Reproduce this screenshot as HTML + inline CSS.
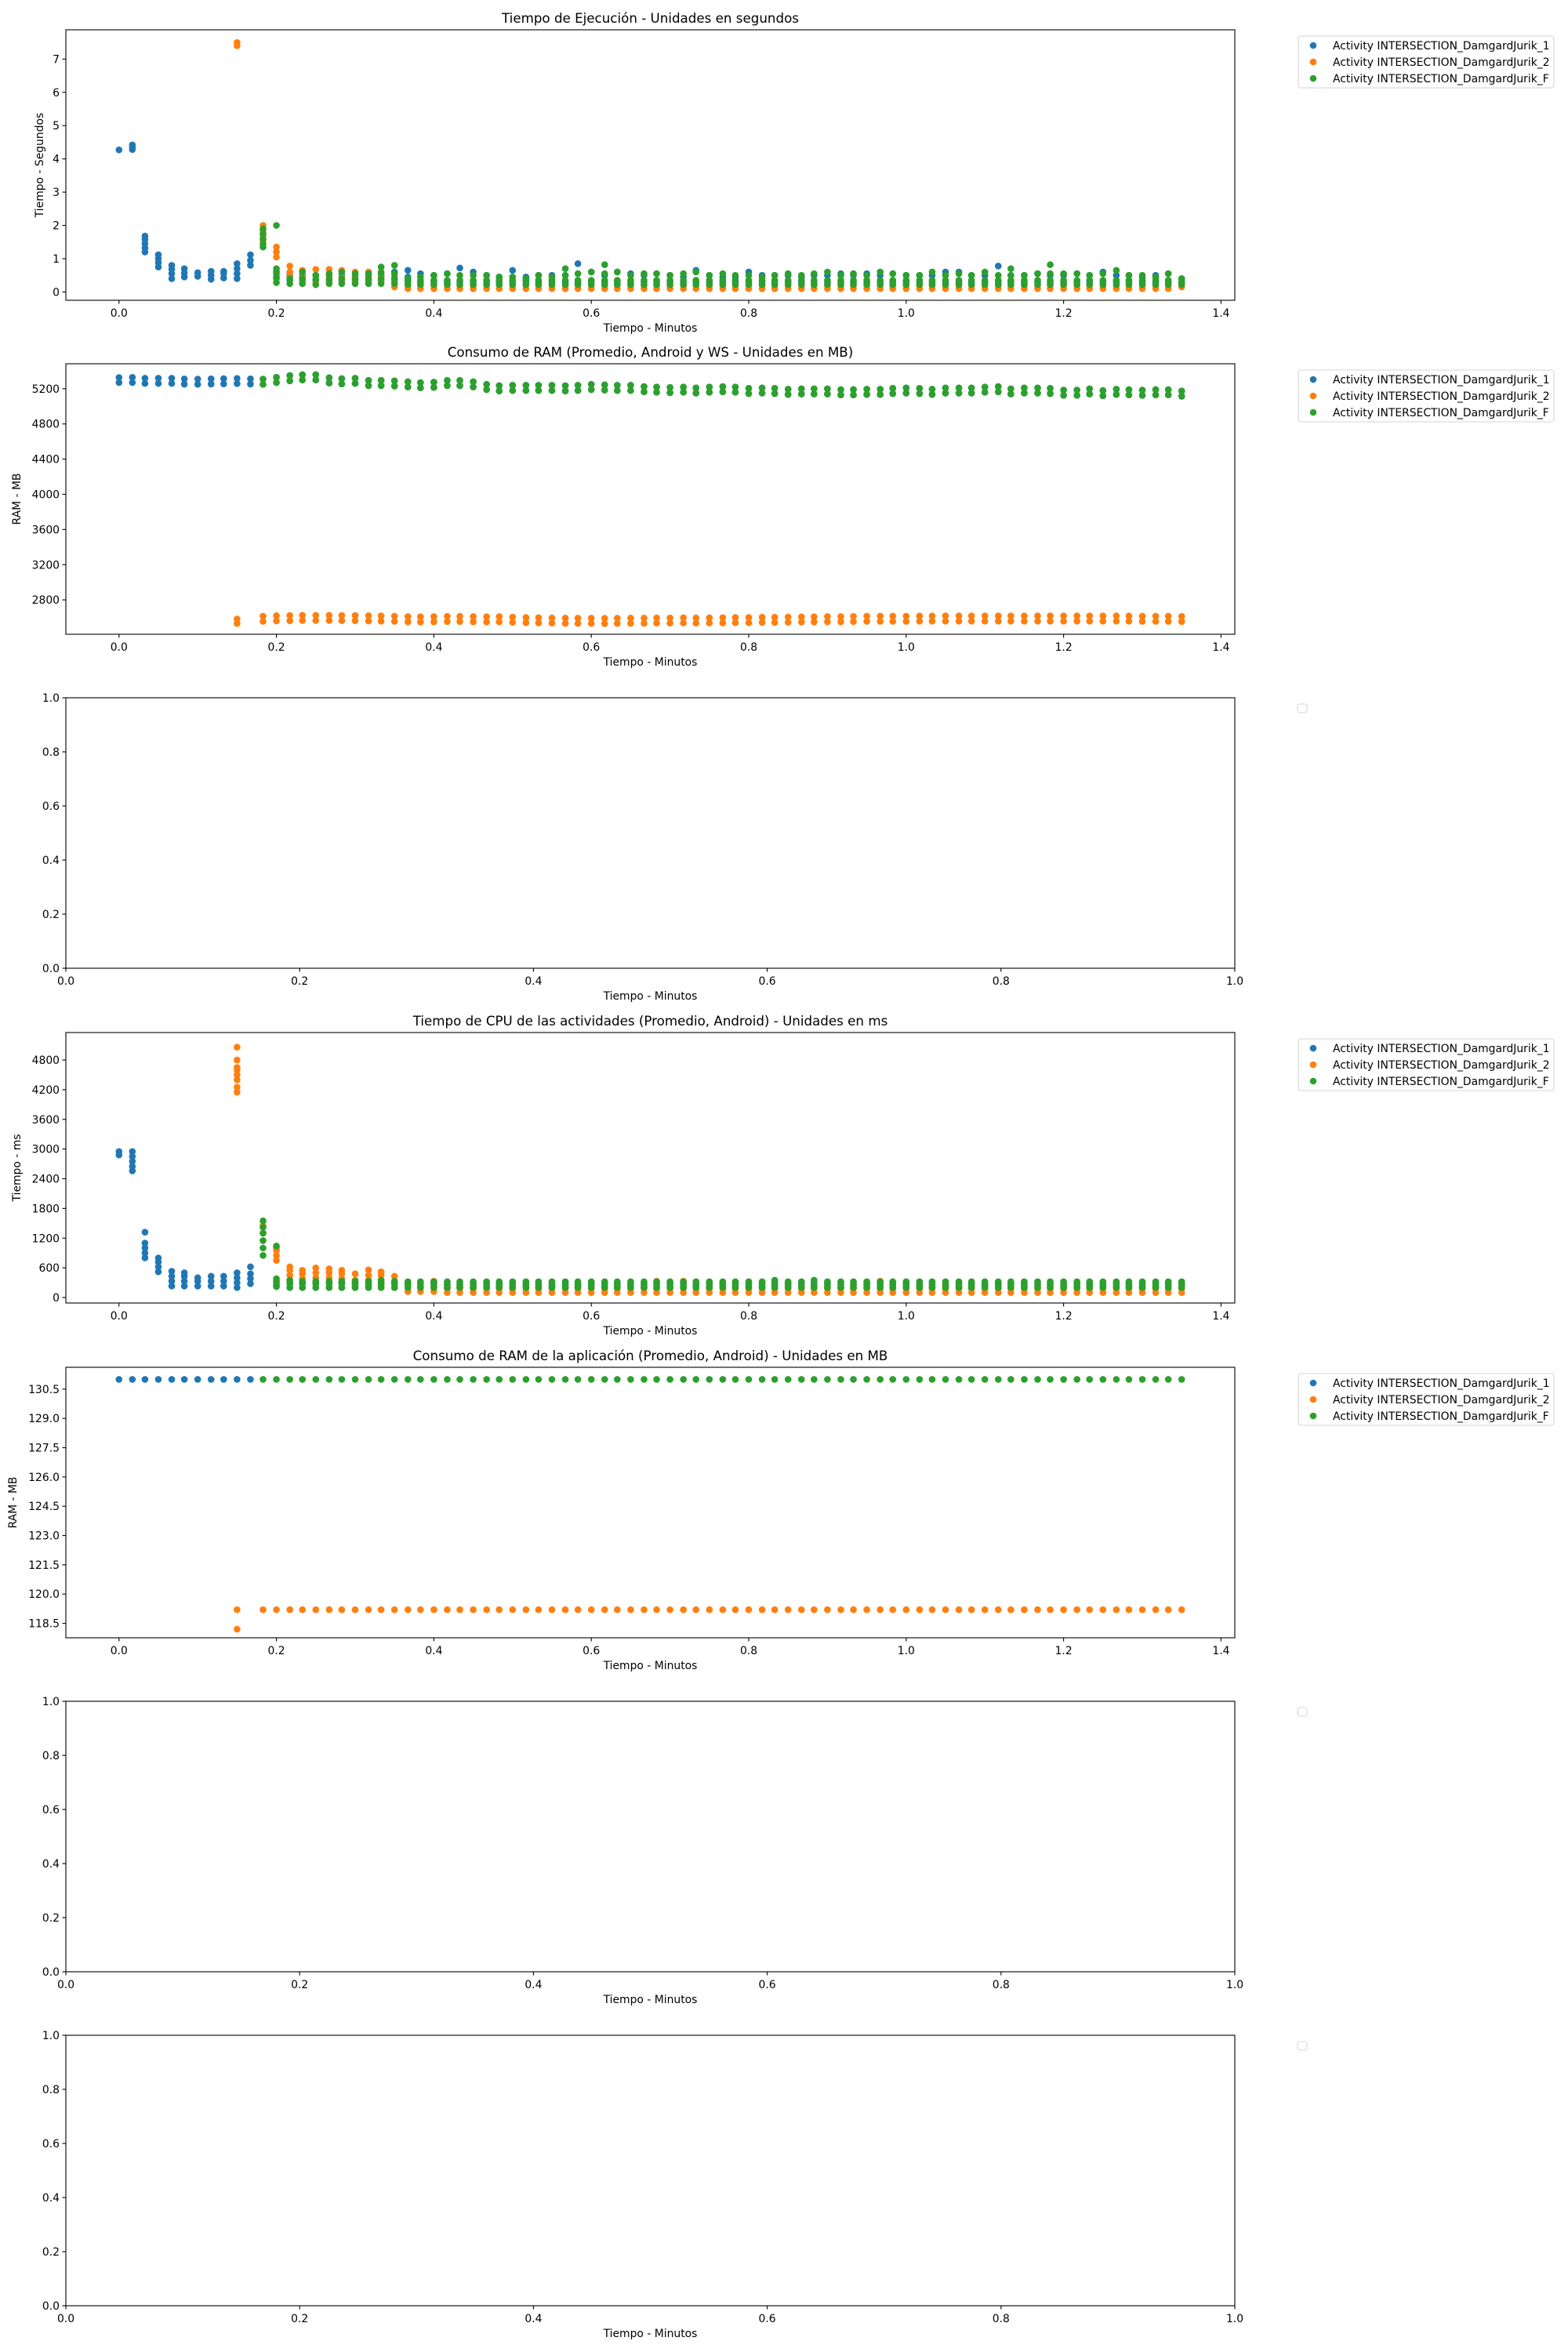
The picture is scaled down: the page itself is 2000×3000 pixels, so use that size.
<!DOCTYPE html>
<html><head><meta charset="utf-8"><title>Charts</title>
<style>
html,body{margin:0;padding:0;background:#fff;}
svg{display:block;font-family:"DejaVu Sans","Liberation Sans",sans-serif;}
</style></head>
<body>
<svg id="fig" width="2000" height="3000" viewBox="0 0 2000 3000" xmlns="http://www.w3.org/2000/svg"></svg>
<script>
// ---------- data ----------
const minutes = [0.000,0.017,0.033,0.050,0.067,0.083,0.100,0.117,0.133,0.150,0.167,0.183,0.200,0.217,0.233,0.250,0.267,0.283,0.300,0.317,0.333,0.350,0.367,0.383,0.400,0.417,0.433,0.450,0.467,0.483,0.500,0.517,0.533,0.550,0.567,0.583,0.600,0.617,0.633,0.650,0.667,0.683,0.700,0.717,0.733,0.750,0.767,0.783,0.800,0.817,0.833,0.850,0.867,0.883,0.900,0.917,0.933,0.950,0.967,0.983,1.000,1.017,1.033,1.050,1.067,1.083,1.100,1.117,1.133,1.150,1.167,1.183,1.200,1.217,1.233,1.250,1.267,1.283,1.300,1.317,1.333,1.350];
const seriesNames = ["Activity INTERSECTION_DamgardJurik_1","Activity INTERSECTION_DamgardJurik_2","Activity INTERSECTION_DamgardJurik_F"];

// Chart 1: execution time (s)
const execBlue = [[4.27],[4.28,4.35,4.42],[1.2,1.32,1.45,1.58,1.68],[0.75,0.88,1.0,1.12],[0.4,0.55,0.68,0.8],[0.45,0.57,0.7],[0.47,0.58],[0.38,0.5,0.62],[0.42,0.55,0.62],[0.4,0.55,0.7,0.85],[0.8,0.95,1.12],
null,[0.45,0.6],[0.35,0.5],[0.35,0.5],[0.35,0.5],[0.35,0.5],[0.35,0.5],[0.35,0.5],[0.35,0.5],[0.35,0.5],[0.35,0.6],
[0.3,0.45,0.65],[0.3,0.55],[0.3,0.5],[0.3,0.55],[0.3,0.72],[0.3,0.6],[0.3,0.5],[0.3,0.45],[0.3,0.65],[0.3,0.45],
[0.3,0.5],[0.3,0.5],[0.3,0.5],[0.3,0.85],[0.3,0.6],[0.3,0.5],[0.3,0.6],[0.3,0.55],[0.3,0.5],[0.3,0.55],
[0.3,0.5],[0.3,0.45],[0.3,0.65],[0.3,0.5],[0.3,0.45],[0.3,0.45],[0.3,0.6],[0.3,0.5],[0.3,0.5],[0.3,0.5],
[0.3,0.45],[0.3,0.5],[0.3,0.5],[0.3,0.55],[0.3,0.5],[0.3,0.55],[0.3,0.5],[0.3,0.55],[0.3,0.5],[0.3,0.5],
[0.3,0.5],[0.3,0.6],[0.3,0.6],[0.3,0.5],[0.3,0.5],[0.3,0.78],[0.3,0.5],[0.3,0.5],[0.3,0.55],[0.3,0.5],
[0.3,0.5],[0.3,0.55],[0.3,0.5],[0.3,0.6],[0.3,0.5],[0.3,0.5],[0.3,0.45],[0.3,0.5],[0.3,0.55],[0.3,0.4]];
const execOrange = [null,null,null,null,null,null,null,null,null,[7.4,7.5],null,
[1.55,1.7,1.85,2.0],[1.05,1.2,1.35],[0.45,0.6,0.78],[0.3,0.45,0.65],[0.3,0.5,0.68],[0.3,0.5,0.68],[0.3,0.45,0.65],[0.3,0.45,0.6],[0.3,0.45,0.6],[0.3,0.45,0.6],[0.15,0.3,0.45],
[0.1,0.2],[0.1,0.2],[0.1,0.2],[0.1,0.2],[0.1,0.2],[0.1,0.2],[0.1,0.2],[0.1,0.2],[0.1,0.2],[0.1,0.2],
[0.1,0.2],[0.1,0.2],[0.1,0.2],[0.1,0.2],[0.1,0.2],[0.1,0.2],[0.1,0.2],[0.1,0.2],[0.1,0.2],[0.1,0.2],
[0.1,0.2],[0.1,0.2],[0.1,0.2],[0.1,0.2],[0.1,0.2],[0.1,0.2],[0.1,0.2],[0.1,0.2],[0.1,0.2],[0.1,0.2],
[0.1,0.2],[0.1,0.2],[0.1,0.2],[0.1,0.2],[0.1,0.2],[0.1,0.2],[0.1,0.2],[0.1,0.2],[0.1,0.2],[0.1,0.2],
[0.1,0.2],[0.1,0.2],[0.1,0.2],[0.1,0.2],[0.1,0.2],[0.1,0.2],[0.1,0.2],[0.1,0.2],[0.1,0.2],[0.1,0.2],
[0.1,0.2],[0.1,0.2],[0.1,0.2],[0.1,0.2],[0.1,0.2],[0.1,0.2],[0.1,0.2],[0.1,0.2],[0.1,0.2],[0.15,0.2]];
const execGreen = [null,null,null,null,null,null,null,null,null,null,null,
[1.35,1.45,1.6,1.75,1.9],[0.28,0.4,0.55,0.7,2.0],[0.25,0.4],[0.25,0.4,0.6],[0.22,0.38,0.5],[0.25,0.4,0.55],[0.25,0.4,0.6],[0.25,0.4,0.55],[0.25,0.4,0.55],[0.25,0.4,0.58,0.75],[0.25,0.4,0.55,0.8],
[0.22,0.35,0.4],[0.22,0.35,0.45],[0.22,0.35,0.5],[0.22,0.35,0.55],[0.22,0.35,0.5],[0.22,0.35,0.5],[0.22,0.35,0.5],[0.22,0.35,0.45],[0.22,0.35,0.45],[0.22,0.35,0.4],
[0.22,0.35,0.5],[0.22,0.35,0.45],[0.22,0.35,0.5,0.7],[0.22,0.35,0.55],[0.22,0.35,0.6],[0.22,0.35,0.55,0.82],[0.22,0.35,0.6],[0.22,0.35,0.5],[0.22,0.35,0.55],[0.22,0.35,0.55],
[0.22,0.35,0.5],[0.22,0.35,0.55],[0.22,0.35,0.6],[0.22,0.35,0.5],[0.22,0.35,0.55],[0.22,0.35,0.5],[0.22,0.35,0.5],[0.22,0.35,0.45],[0.22,0.35,0.5],[0.22,0.35,0.55],
[0.22,0.35,0.5],[0.22,0.35,0.55],[0.22,0.35,0.6],[0.22,0.35,0.5],[0.22,0.35,0.55],[0.22,0.35,0.5],[0.22,0.35,0.6],[0.22,0.35,0.55],[0.22,0.35,0.5],[0.22,0.35,0.5],
[0.22,0.35,0.6],[0.22,0.35,0.5],[0.22,0.35,0.55],[0.22,0.35,0.5],[0.22,0.35,0.6],[0.22,0.35,0.5],[0.22,0.35,0.5,0.7],[0.22,0.35,0.5],[0.22,0.35,0.55],[0.22,0.35,0.55,0.82],
[0.22,0.35,0.55],[0.22,0.35,0.55],[0.22,0.35,0.5],[0.22,0.35,0.55],[0.22,0.35,0.65],[0.22,0.35,0.5],[0.22,0.35,0.5],[0.22,0.35,0.45],[0.22,0.35,0.55],[0.22,0.3,0.4]];

// Chart 2: system RAM (MB), low / high per column
const ramBlueLo = [5270,5270,5260,5260,5260,5252,5250,5253,5255,5258,5253,5250,5270,5290,5300,5300,5265,5255,5260,5235,5235,5230,5220,5210,5215,5235,5235,5220,5190,5175,5180,5180,5180,5180,5175,5180,5190,5185,5180,5180,5165,5160,5155,5160,5150,5160,5165,5160,5145,5150,5145,5135,5140,5140,5140,5130,5130,5135,5135,5145,5150,5145,5135,5150,5150,5150,5160,5165,5140,5150,5150,5145,5125,5125,5140,5120,5135,5130,5125,5130,5130,5115];
const ramBlueHi = [5328,5330,5320,5320,5320,5312,5310,5313,5315,5318,5313,5310,5330,5350,5360,5360,5325,5315,5320,5295,5295,5290,5280,5270,5275,5295,5295,5280,5250,5235,5240,5240,5240,5240,5235,5240,5250,5245,5240,5240,5225,5220,5215,5220,5210,5220,5225,5220,5205,5210,5205,5195,5200,5200,5200,5190,5190,5195,5195,5205,5210,5205,5195,5210,5210,5210,5220,5225,5200,5210,5210,5205,5185,5185,5200,5180,5195,5190,5185,5190,5190,5175];
const ramOrangeLo = [null,null,null,null,null,null,null,null,null,2532,null,2555,2560,2563,2565,2565,2565,2563,2562,2560,2558,2555,2550,2548,2550,2553,2553,2550,2548,2550,2545,2540,2538,2535,2533,2532,2532,2530,2532,2533,2533,2535,2535,2537,2535,2537,2538,2540,2540,2543,2543,2545,2547,2548,2550,2550,2552,2555,2555,2555,2555,2557,2557,2558,2558,2558,2558,2558,2558,2558,2558,2558,2558,2558,2558,2558,2558,2557,2555,2555,2555,2552];
const ramOrangeHi = [null,null,null,null,null,null,null,null,null,2582,null,2615,2620,2623,2625,2625,2625,2623,2622,2620,2618,2615,2610,2608,2610,2613,2613,2610,2608,2610,2605,2600,2598,2595,2593,2592,2592,2590,2592,2593,2593,2595,2595,2597,2595,2597,2598,2600,2600,2603,2603,2605,2607,2608,2610,2610,2612,2615,2615,2615,2615,2617,2617,2618,2618,2618,2618,2618,2618,2618,2618,2618,2618,2618,2618,2618,2618,2617,2615,2615,2615,2612];
const ramGreenLo = [null,null,null,null,null,null,null,null,null,null,null,5250,5270,5290,5300,5300,5265,5255,5260,5235,5235,5230,5220,5210,5215,5235,5235,5220,5190,5175,5180,5180,5180,5180,5175,5180,5190,5185,5180,5180,5165,5160,5155,5160,5150,5160,5165,5160,5145,5150,5145,5135,5140,5140,5140,5130,5130,5135,5135,5145,5150,5145,5135,5150,5150,5150,5160,5165,5140,5150,5150,5145,5125,5125,5140,5120,5135,5130,5125,5130,5130,5115];
const ramGreenHi = [null,null,null,null,null,null,null,null,null,null,null,5310,5330,5350,5360,5360,5325,5315,5320,5295,5295,5290,5280,5270,5275,5295,5295,5280,5250,5235,5240,5240,5240,5240,5235,5240,5250,5245,5240,5240,5225,5220,5215,5220,5210,5220,5225,5220,5205,5210,5205,5195,5200,5200,5200,5190,5190,5195,5195,5205,5210,5205,5195,5210,5210,5210,5220,5225,5200,5210,5210,5205,5185,5185,5200,5180,5195,5190,5185,5190,5190,5175];

// Chart 4: CPU time (ms)
const cpuBlue = [[2880,2950],[2560,2650,2750,2850,2950],[800,900,1000,1100,1320],[520,620,720,800],[230,330,430,530],[230,330,430,500],[230,330,400],[230,330,430],[230,330,430],[200,300,400,500],[280,380,480,620],
null,[250,330],[200,300],[200,300],[200,300],[200,300],[200,300],[200,300],[200,300],[200,300],[200,300],
[200,300],[200,300],[200,300],[200,300],[200,300],[200,300],[200,300],[200,300],[200,300],[200,300],
[200,300],[200,300],[200,300],[200,300],[200,300],[200,300],[200,300],[200,300],[200,300],[200,300],
[200,300],[200,300],[200,300],[200,300],[200,300],[200,300],[200,300],[200,300],[200,300],[200,300],
[200,300],[200,300],[200,300],[200,300],[200,300],[200,300],[200,300],[200,300],[200,300],[200,300],
[200,300],[200,300],[200,300],[200,300],[200,300],[200,300],[200,300],[200,300],[200,300],[200,300],
[200,300],[200,300],[200,300],[200,300],[200,300],[200,300],[200,300],[200,300],[200,300],[200,300]];
const cpuOrange = [null,null,null,null,null,null,null,null,null,[4150,4250,4400,4500,4600,4650,4800,5060],null,
[1150,1300,1450],[750,850,950,1000],[350,450,550,620],[280,380,480,550],[300,400,500,600],[300,400,500,580],[280,380,480,550],[250,350,480],[250,350,450,560],[250,350,450,520],[200,300,430],
[120,200,270],[120,200,270],[120,200,330],[100,180,250],[100,180,250],[100,180,250],[100,180,250],[100,180,250],[100,180,250],[100,180,250],
[100,180,250],[100,180,250],[100,180,250],[100,180,250],[100,180,250],[100,180,250],[100,180,250],[100,180,250],[100,180,250],[100,180,330],
[100,180,250],[100,180,330],[100,180,250],[100,180,250],[100,180,250],[100,180,250],[100,180,250],[100,180,250],[100,180,250],[100,180,250],
[100,180,250],[100,180,250],[100,180,250],[100,180,250],[100,180,250],[100,180,250],[100,180,330],[100,180,250],[100,180,250],[100,180,250],
[100,180,250],[100,180,250],[100,180,250],[100,180,250],[100,180,250],[100,180,250],[100,180,250],[100,180,250],[100,180,250],[100,180,250],
[100,180,250],[100,180,250],[100,180,250],[100,180,250],[100,180,250],[100,180,250],[100,180,250],[100,180,250],[100,180,250],[100,180,250]];
const cpuGreen = [null,null,null,null,null,null,null,null,null,null,null,
[850,1000,1150,1300,1420,1550],[220,300,380,1040],[200,280,350],[200,280,330],[200,280,330],[200,280,330],[200,280,330],[200,280,330],[200,280,330],[200,280,350],[200,280,330],
[200,260,320],[200,260,320],[200,260,320],[200,260,320],[200,260,320],[200,260,320],[200,260,320],[200,260,320],[200,260,320],[200,260,320],
[200,260,320],[200,260,320],[200,260,320],[200,260,320],[200,260,320],[200,260,320],[200,260,320],[200,260,320],[200,260,320],[200,260,320],
[200,260,320],[200,260,320],[200,260,320],[200,260,320],[200,260,320],[200,260,320],[200,260,320],[200,260,320],[200,260,350],[200,260,320],
[200,260,320],[200,260,350],[200,260,320],[200,260,320],[200,260,320],[200,260,320],[200,260,320],[200,260,320],[200,260,320],[200,260,320],
[200,260,320],[200,260,320],[200,260,320],[200,260,320],[200,260,320],[200,260,320],[200,260,320],[200,260,320],[200,260,320],[200,260,320],
[200,260,320],[200,260,320],[200,260,320],[200,260,320],[200,260,320],[200,260,320],[200,260,320],[200,260,320],[200,260,320],[200,260,320]];

// Chart 5: app RAM (MB)
const appBlue = [[131.0],[131.0],[131.0],[131.0],[131.0],[131.0],[131.0],[131.0],[131.0],[131.0],[131.0]];
const appOrange = [null,null,null,null,null,null,null,null,null,[119.2,118.2],null,
[119.2],[119.2],[119.2],[119.2],[119.2],[119.2],[119.2],[119.2],[119.2],[119.2],
[119.2],[119.2],[119.2],[119.2],[119.2],[119.2],[119.2],[119.2],[119.2],[119.2],
[119.2],[119.2],[119.2],[119.2],[119.2],[119.2],[119.2],[119.2],[119.2],[119.2],
[119.2],[119.2],[119.2],[119.2],[119.2],[119.2],[119.2],[119.2],[119.2],[119.2],
[119.2],[119.2],[119.2],[119.2],[119.2],[119.2],[119.2],[119.2],[119.2],[119.2],
[119.2],[119.2],[119.2],[119.2],[119.2],[119.2],[119.2],[119.2],[119.2],[119.2],
[119.2],[119.2],[119.2],[119.2],[119.2],[119.2],[119.2],[119.2],[119.2],[119.2],
[119.2]];
const appGreen = [null,null,null,null,null,null,null,null,null,null,null,
[131.0],[131.0],[131.0],[131.0],[131.0],[131.0],[131.0],[131.0],[131.0],[131.0],
[131.0],[131.0],[131.0],[131.0],[131.0],[131.0],[131.0],[131.0],[131.0],[131.0],
[131.0],[131.0],[131.0],[131.0],[131.0],[131.0],[131.0],[131.0],[131.0],[131.0],
[131.0],[131.0],[131.0],[131.0],[131.0],[131.0],[131.0],[131.0],[131.0],[131.0],
[131.0],[131.0],[131.0],[131.0],[131.0],[131.0],[131.0],[131.0],[131.0],[131.0],
[131.0],[131.0],[131.0],[131.0],[131.0],[131.0],[131.0],[131.0],[131.0],[131.0],
[131.0],[131.0],[131.0],[131.0],[131.0],[131.0],[131.0],[131.0],[131.0],[131.0],
[131.0]];

const xTicksMin = [0.0,0.2,0.4,0.6,0.8,1.0,1.2,1.4];
const xTicksUnit = [0.0,0.2,0.4,0.6,0.8,1.0];
const yTicksExec = [0,1,2,3,4,5,6,7];
const yTicksRam = [2800,3200,3600,4000,4400,4800,5200];
const yTicksCpu = [0,600,1200,1800,2400,3000,3600,4200,4800];
const yTicksApp = [118.5,120.0,121.5,123.0,124.5,126.0,127.5,129.0,130.5];
const yTicksUnit = [0.0,0.2,0.4,0.6,0.8,1.0];

// ---------- rendering ----------
const NS = "http://www.w3.org/2000/svg";
const svg = document.getElementById("fig");
const COLORS = ["#1f77b4","#ff7f0e","#2ca02c"];
const LEFT = 84, RIGHT = 1575, H = 345, R = 4.3;

function mk(tag, attrs, parent){
  const e = document.createElementNS(NS, tag);
  for (const k in attrs) e.setAttribute(k, attrs[k]);
  parent.appendChild(e);
  return e;
}

function drawChart(c){
  const g = mk("g", {}, svg);
  
  
  const top = c.top, bottom = c.top + H;
  const sx = v => LEFT + (v - c.xmin) / (c.xmax - c.xmin) * (RIGHT - LEFT);
  const sy = v => bottom - (v - c.ymin) / (c.ymax - c.ymin) * H;

  if (c.title){
    const t = mk("text", {x:(LEFT+RIGHT)/2, y:top-9, "text-anchor":"middle", "font-size":"16.7"}, g);
    t.textContent = c.title;
    
    
  }
  const clip = mk("g", {}, g);
  
  

  (c.series || []).forEach((s, si) => {
    const sg = mk("g", {fill: COLORS[si]}, clip);
    
    
    s.forEach((vals, i) => {
      if (!vals) return;
      vals.forEach(v => {
        if (v === null || v === undefined) return;
        const p = mk("circle", {cx: sx(minutes[i]), cy: sy(v), r: R}, sg);
        
        
      });
    });
  });

  const fr = mk("rect", {x:LEFT, y:top, width:RIGHT-LEFT, height:H, fill:"none", stroke:"#000", "stroke-width":"1.1"}, g);
  
  

  c.xticks.forEach(v => {
    const x = sx(v);
    const tk = mk("line", {x1:x, x2:x, y1:bottom, y2:bottom+4.5, stroke:"#000", "stroke-width":"1.1"}, g);
    
    
    const tl = mk("text", {x:x, y:bottom+21, "text-anchor":"middle", "font-size":"13.9"}, g);
    tl.textContent = v.toFixed(1);
    
    
  });
  c.yticks.forEach(v => {
    const y = sy(v);
    const tk = mk("line", {x1:LEFT-4.5, x2:LEFT, y1:y, y2:y, stroke:"#000", "stroke-width":"1.1"}, g);
    
    
    const tl = mk("text", {x:LEFT-8, y:y+5, "text-anchor":"end", "font-size":"13.9"}, g);
    tl.textContent = c.fmtY(v);
    
    
  });
  const xl = mk("text", {x:(LEFT+RIGHT)/2, y:bottom+40, "text-anchor":"middle", "font-size":"13.9"}, g);
  xl.textContent = "Tiempo - Minutos";
  
  
  if (c.ylabel){
    const cy = top + H/2;
    const yl = mk("text", {x:c.ylabelX, y:cy, "text-anchor":"middle", "font-size":"13.9", transform:"rotate(-90 "+c.ylabelX+" "+cy+")"}, g);
    yl.textContent = c.ylabel;
    
    
  }

  const lg = mk("g", {}, g);
  
  
  if (c.series){
    mk("rect", {x:1656, y:top+8, width:326, height:66, rx:3, fill:"#fff", stroke:"#d6d6d6", "stroke-width":"1.1"}, lg);
    seriesNames.forEach((n, k) => {
      const ey = top + 19 + k*21;
      const dot = mk("circle", {cx:1675, cy:ey+1, r:R, fill:COLORS[k]}, lg);
      
      
      const lt = mk("text", {x:1700, y:ey+6, "font-size":"13.9"}, lg);
      lt.textContent = n;
      
      
    });
  } else {
    mk("rect", {x:1655, y:top+8, width:12, height:11, rx:2.5, fill:"#fff", stroke:"#d6d6d6", "stroke-width":"1.1"}, lg);
  }
}

function loHi(lo, hi){ return lo.map((v, i) => v === null ? null : [v, hi[i]]); }

const f0 = v => String(v);
const f1 = v => v.toFixed(1);

drawChart({name:"chart-execution-time", top:38, xmin:-0.0675, xmax:1.4175, ymin:-0.25, ymax:7.88,
  xticks:xTicksMin, yticks:yTicksExec, fmtY:f0, title:"Tiempo de Ejecución - Unidades en segundos",
  ylabel:"Tiempo - Segundos", ylabelX:55, series:[execBlue, execOrange, execGreen]});
drawChart({name:"chart-system-ram", top:464, xmin:-0.0675, xmax:1.4175, ymin:2409, ymax:5484,
  xticks:xTicksMin, yticks:yTicksRam, fmtY:f0, title:"Consumo de RAM (Promedio, Android y WS - Unidades en MB)",
  ylabel:"RAM - MB", ylabelX:26, series:[loHi(ramBlueLo, ramBlueHi), loHi(ramOrangeLo, ramOrangeHi), loHi(ramGreenLo, ramGreenHi)]});
drawChart({name:"chart-empty-1", top:890, xmin:0, xmax:1, ymin:0, ymax:1,
  xticks:xTicksUnit, yticks:yTicksUnit, fmtY:f1, title:null, ylabel:null});
drawChart({name:"chart-cpu-time", top:1317, xmin:-0.0675, xmax:1.4175, ymin:-111, ymax:5355,
  xticks:xTicksMin, yticks:yTicksCpu, fmtY:f0, title:"Tiempo de CPU de las actividades (Promedio, Android) - Unidades en ms",
  ylabel:"Tiempo - ms", ylabelX:26, series:[cpuBlue, cpuOrange, cpuGreen]});
drawChart({name:"chart-app-ram", top:1744, xmin:-0.0675, xmax:1.4175, ymin:117.76, ymax:131.62,
  xticks:xTicksMin, yticks:yTicksApp, fmtY:f1, title:"Consumo de RAM de la aplicación (Promedio, Android) - Unidades en MB",
  ylabel:"RAM - MB", ylabelX:21, series:[appBlue, appOrange, appGreen]});
drawChart({name:"chart-empty-2", top:2170, xmin:0, xmax:1, ymin:0, ymax:1,
  xticks:xTicksUnit, yticks:yTicksUnit, fmtY:f1, title:null, ylabel:null});
drawChart({name:"chart-empty-3", top:2596, xmin:0, xmax:1, ymin:0, ymax:1,
  xticks:xTicksUnit, yticks:yTicksUnit, fmtY:f1, title:null, ylabel:null});
</script>
</body></html>
